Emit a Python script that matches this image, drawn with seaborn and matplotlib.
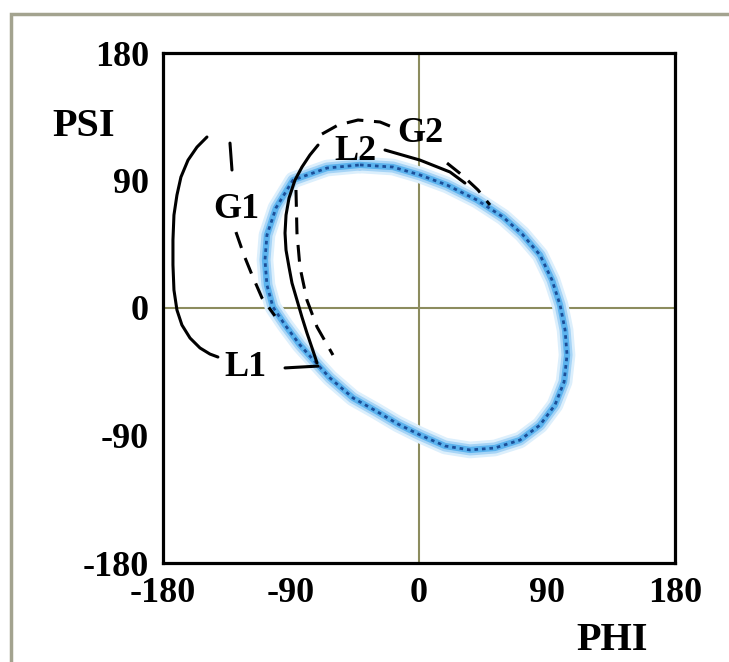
import matplotlib
matplotlib.use("Agg")
import matplotlib.pyplot as plt
import seaborn as sns
import pandas as pd
from matplotlib.patches import Rectangle

# ---- data (degrees) ----
ticks = [-180, -90, 0, 90, 180]
tick_labels = ["-180", "-90", "0", "90", "180"]

ellipse_phi = [-41.5, -18.3, 0.7, 19.7, 40.8, 59.1, 72.5, 85.1, 93.5, 99.2, 102.7, 104.1,
               102.0, 95.6, 85.1, 71.0, 53.4, 35.9, 18.3, 0.7, -14.8, -30.2, -46.4, -62.6,
               -71.7, -83.7, -94.2, -102.7, -106.9, -108.3, -106.9, -100.6, -88.6, -64.7, -41.5]
ellipse_psi = [101.0, 99.5, 93.9, 86.8, 76.2, 64.2, 52.2, 37.4, 19.8, 2.1, -15.5, -33.2,
               -52.2, -68.5, -82.6, -93.2, -98.8, -100.2, -97.4, -89.6, -81.9, -72.7, -63.5, -49.4,
               -39.5, -26.1, -12.0, 0.7, 16.2, 33.9, 51.5, 70.6, 90.3, 98.8, 101.0]

l1_outer_phi = [-149.1, -156.1, -162.4, -167.4, -170.2, -172.3, -173.0, -173.0, -172.3,
                -170.2, -166.7, -161.0, -154.0, -147.0, -141.4]
l1_outer_psi = [120.7, 113.6, 104.4, 92.4, 79.7, 65.6, 48.0, 30.4, 12.7,
                -1.4, -12.0, -21.2, -28.2, -32.5, -34.6]

l1_leader_phi = [-94.2, -71.0]
l1_leader_psi = [-42.3, -41.0]

l2_inner_phi = [-71.7, -75.2, -78.8, -82.3, -85.8, -89.3, -91.4, -93.5, -94.2, -93.5,
                -91.4, -87.2, -82.3, -76.7, -71.0]
l2_inner_psi = [-38.8, -28.2, -17.6, -6.4, 5.6, 17.6, 28.9, 40.9, 52.9, 65.6,
                77.6, 90.3, 99.5, 108.0, 115.0]

l2_right_phi = [-23.9, 0.7, 21.8, 32.3]
l2_right_psi = [111.5, 104.4, 96.0, 88.2]

g1_top_phi = [-132.9, -131.5]
g1_top_psi = [116.4, 97.4]
g1_low_phi = [-128.7, -123.1, -117.4, -110.4, -101.3]
g1_low_psi = [53.6, 37.4, 23.3, 7.1, -5.6]

g2_inner_phi = [-86.5, -85.8, -83.7, -78.8, -71.7, -60.5]
g2_inner_psi = [83.3, 52.9, 28.9, 5.6, -13.4, -33.2]

g2_top_phi = [-68.2, -57.0, -42.9, -27.4, -20.4]
g2_top_psi = [122.8, 129.1, 132.7, 131.3, 128.4]
g2_right_phi = [19.7, 30.2, 41.5, 49.9]
g2_right_psi = [102.3, 93.9, 83.3, 72.7]

region_labels = ["G1", "L1", "L2", "G2"]
region_label_phi = [-128.7, -121.7, -45.0, 0.7]
region_label_psi = [69.2, -42.3, 110.5, 123.5]

# ---- style ----
sns.set_style("white")
plt.rcParams["font.family"] = ["Liberation Serif", "DejaVu Serif"]
plt.rcParams["text.color"] = "black"
plt.rcParams["xtick.color"] = "black"
plt.rcParams["ytick.color"] = "black"

fig = plt.figure(figsize=(7.29, 6.62), dpi=100)
ax = fig.add_axes([163/729, 1 - 563/662, 512/729, 510/662])

def curve(phi, psi, **kw):
    df = pd.DataFrame({"phi": phi, "psi": psi})
    sns.lineplot(data=df, x="phi", y="psi", sort=False, estimator=None, ax=ax, **kw)

# crosshair
ax.axhline(0, color="#8c8c5e", lw=1.5, zorder=1)
ax.axvline(0, color="#8c8c5e", lw=1.5, zorder=1)

# blue fuzzy ellipse
curve(ellipse_phi, ellipse_psi, color="#dcefFc", lw=12, zorder=2, solid_joinstyle="round")
curve(ellipse_phi, ellipse_psi, color="#a6d4f6", lw=8, zorder=2, solid_joinstyle="round")
curve(ellipse_phi, ellipse_psi, color="#5cb3ee", lw=4.5, zorder=3, solid_joinstyle="round")
curve(ellipse_phi, ellipse_psi, color="#1b4f99", lw=2.0, linestyle=(0, (1.3, 1.4)), zorder=4)

# solid black curves
for p, s in [(l1_outer_phi, l1_outer_psi), (l1_leader_phi, l1_leader_psi),
             (l2_inner_phi, l2_inner_psi), (l2_right_phi, l2_right_psi), (g1_top_phi, g1_top_psi)]:
    curve(p, s, color="black", lw=2.2, zorder=5, solid_joinstyle="round")

# dashed black curves
for p, s in [(g1_low_phi, g1_low_psi),
             (g2_inner_phi, g2_inner_psi), (g2_top_phi, g2_top_psi),
             (g2_right_phi, g2_right_psi)]:
    curve(p, s, color="black", lw=2.2, linestyle=(0, (5.5, 3.5)), zorder=5)

for t, x, y in zip(region_labels, region_label_phi, region_label_psi):
    ax.text(x, y, t, ha="center", va="center", fontsize=26, fontweight="bold", zorder=6)

ax.set_xlim(-180, 180)
ax.set_ylim(-180, 180)
ax.set_xticks(ticks)
ax.set_yticks(ticks)
ax.set_xticklabels(tick_labels)
ax.set_yticklabels(tick_labels)
ax.tick_params(axis="both", direction="out", length=7, width=1.5, color="black",
               labelsize=26, pad=3)
for lab in ax.get_xticklabels() + ax.get_yticklabels():
    lab.set_fontweight("bold")
ax.set_xlabel("")
ax.set_ylabel("")
for sp in ax.spines.values():
    sp.set_color("black")
    sp.set_linewidth(2.3)

fig.text(84/729, 1 - 126/662, "PSI", ha="center", va="center", fontsize=29, fontweight="bold")
fig.text(612/729, 1 - 640/662, "PHI", ha="center", va="center", fontsize=29, fontweight="bold")

# outer frame
top = 1 - 14/662
fig.patches.append(Rectangle((11/729, -0.2), 1.5, top + 0.2, transform=fig.transFigure,
                             fill=False, edgecolor="#a3a38f", lw=2.5, clip_on=False))

fig.savefig("out.png", dpi=100)
